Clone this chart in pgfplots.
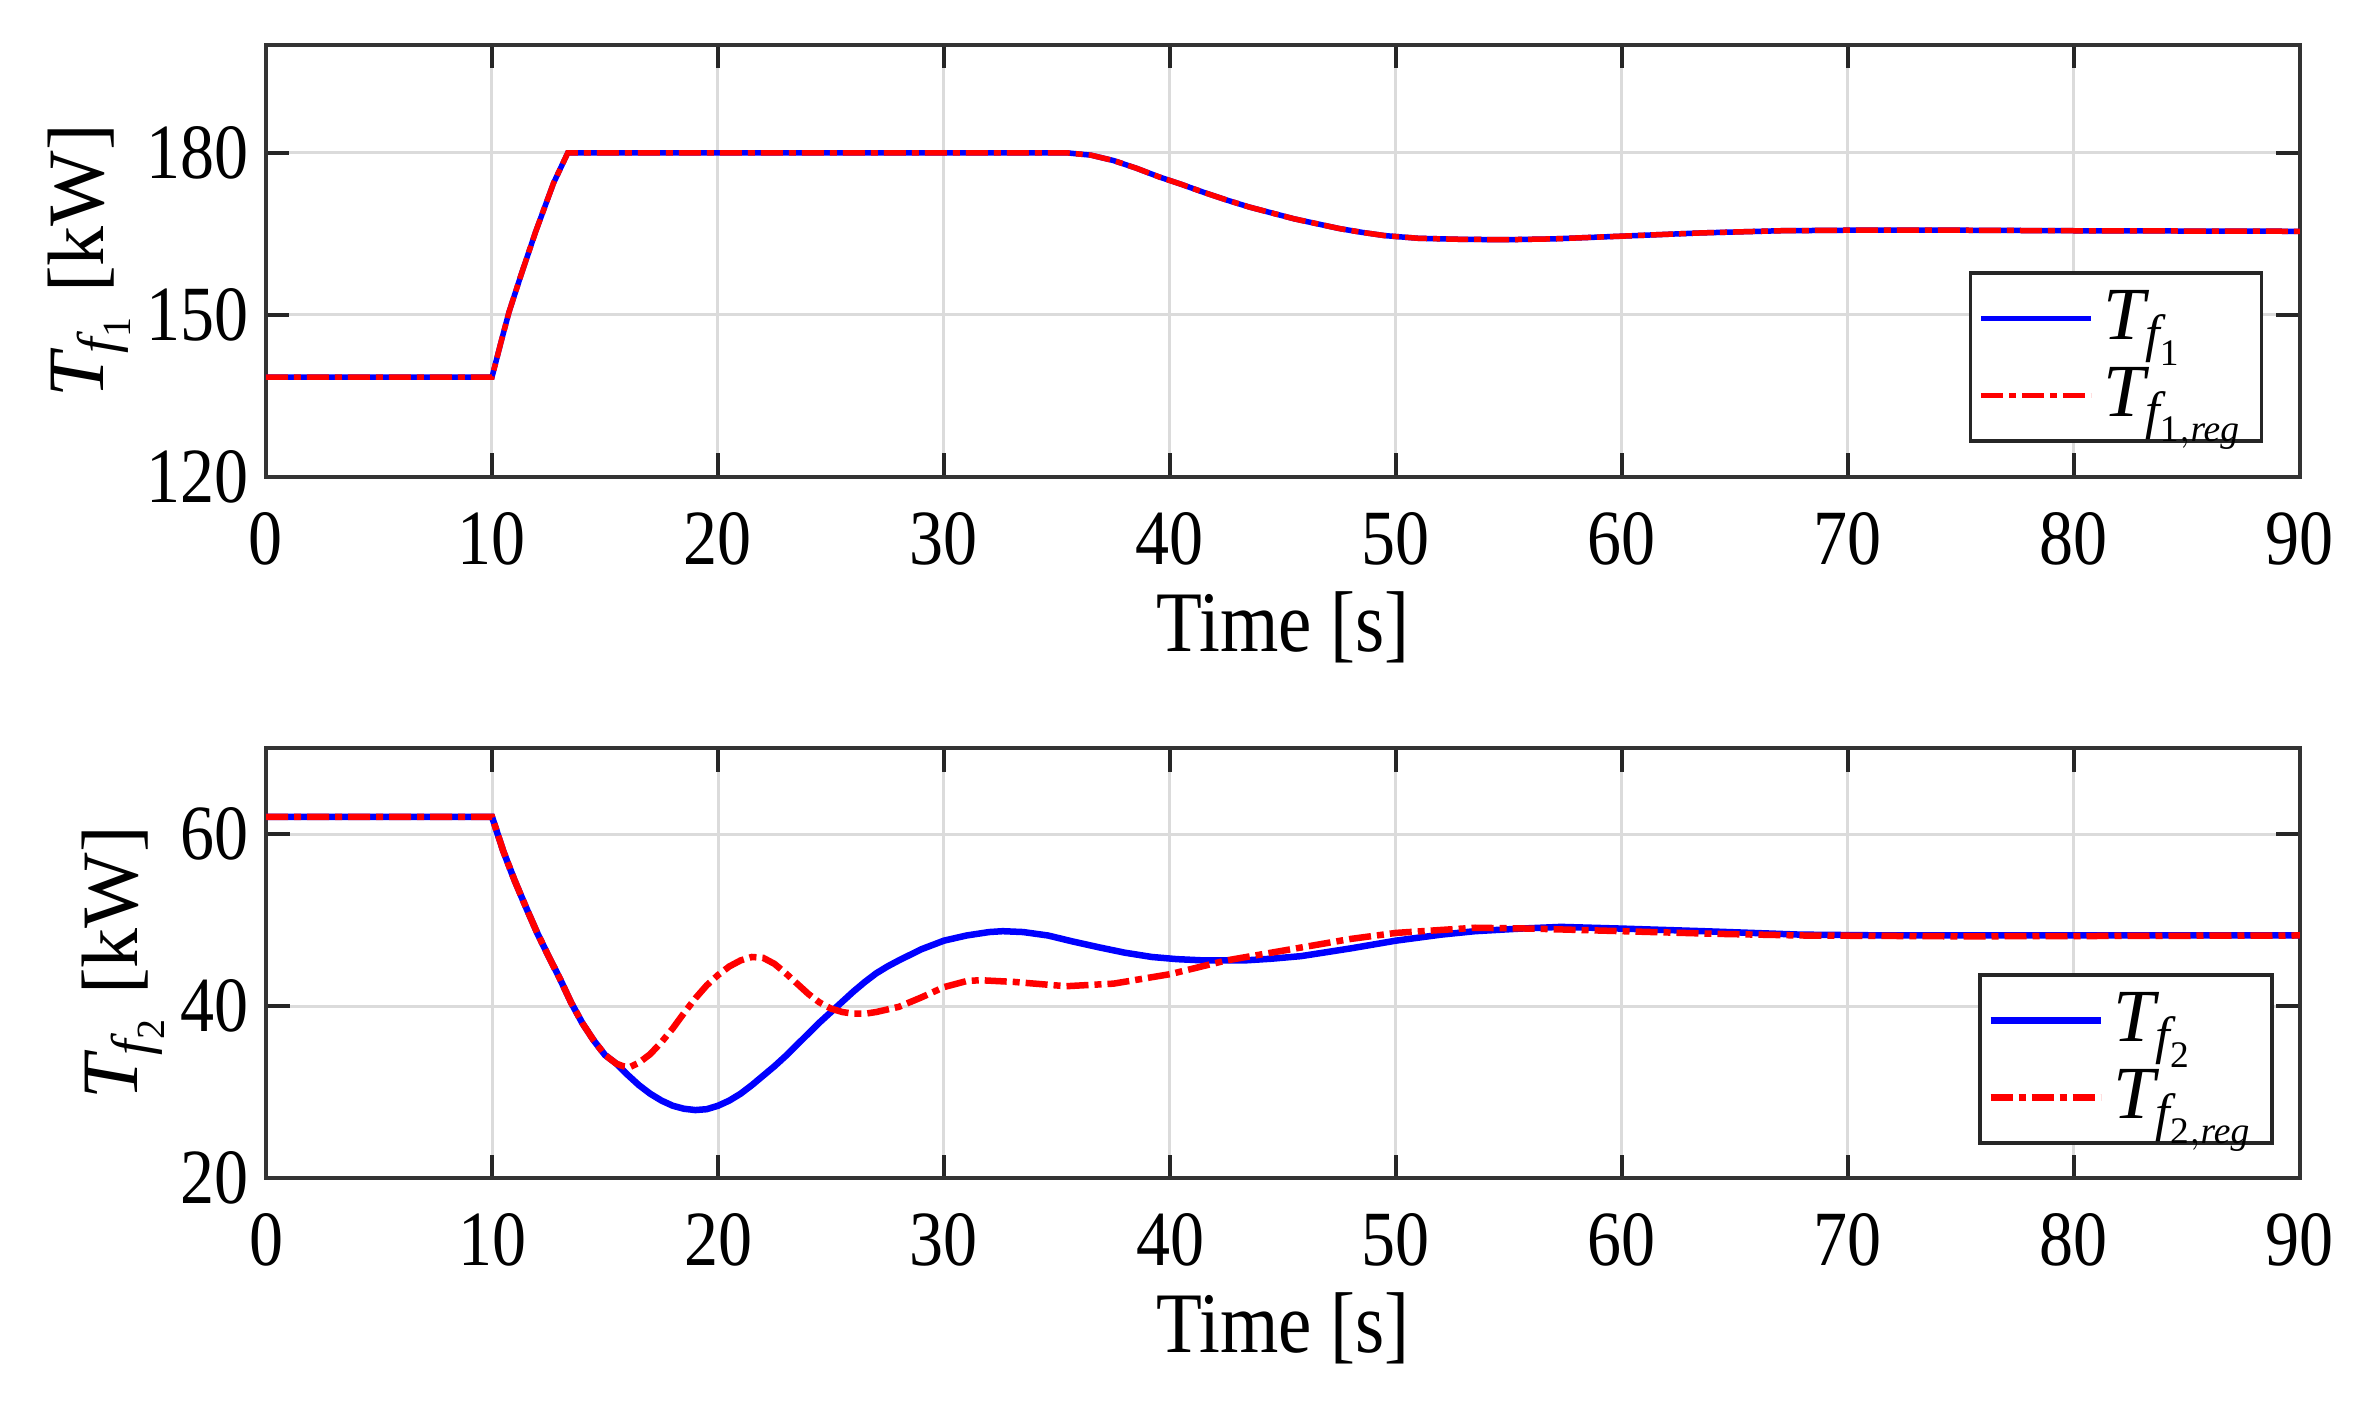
\documentclass[border=0pt]{standalone}
\usepackage{graphicx}
\usepackage{pgfplots}
\pgfplotsset{compat=1.18}
\usepackage{amsmath}
\usepackage{fontspec}
\setmainfont{Liberation Serif}
\newcommand{\Tf}[1]{\textit{T}_{\textit{f}_{#1}}}
\newcommand{\vs}[1]{\scalebox{1}[1.15]{#1}}
\begin{document}
\begin{tikzpicture}
\path[use as bounding box] (0,0) rectangle (472pt,281.6pt);
\pgfplotsset{
  every axis/.style={
    scale only axis, width=406.8pt, anchor=south west,
    xmin=0, xmax=90, xtick={0,10,...,90},
    tick align=inside, major tick length=4.7pt,
    axis line style={black!80, line width=0.7pt},
    every tick/.style={black!85, line width=0.7pt},
    grid=major, grid style={black!14, line width=0.6pt},
    /pgf/number format/assume math mode=true,
    tick label style={font=\fontsize{13.6}{16}\selectfont},
    xticklabel={\vs{\pgfmathprintnumber{\tick}}},
    yticklabel={\vs{\pgfmathprintnumber{\tick}}},
    xticklabel style={yshift=-3.5pt},
    label style={font=\fontsize{15}{18}\selectfont},
    xlabel={\vs{Time [s]}},
    xlabel style={yshift=1.5pt},
    ylabel shift=-3.7pt,
    legend cell align=left,
    legend style={draw=black!85, line width=0.7pt, font=\fontsize{15}{18}\selectfont,
      anchor=south east, inner sep=1.5pt, row sep=0pt},
    legend image code/.code={\draw[#1] (0pt,0pt) -- (22pt,0pt);},
  }
}
\begin{axis}[at={(53.2pt,186.2pt)}, height=86.4pt,
  ymin=120, ymax=200, ytick={120,150,180},
  ylabel={\fontsize{16}{19}\selectfont$\Tf{\textrm{1}}$ [kW]},
  legend style={at={(0.982,0.079)}}]
\addplot[blue, line width=1.1pt] coordinates {
(0,138.5) (10,138.5) (10.4,145) (10.75,150.5) (11.3,157.6) (11.93,165.4) (12.72,174.4) (13.35,180)
(20,180) (30,180) (35.5,180) (36.5,179.6) (37.5,178.6) (38.5,177.2) (39.5,175.6)
(40.5,174.2) (41.5,172.7) (42.5,171.3) (43.5,170.0) (44.5,168.9) (45.5,167.8)
(46.5,166.9) (47.5,166.0) (48.5,165.3) (49.5,164.7) (51,164.2) (53,164.0) (55,163.95)
(57,164.1) (60,164.6) (63.5,165.2) (67,165.6) (70,165.7) (75,165.7) (80,165.6) (90,165.5)};
\addlegendentry{$\Tf{\textrm{1}}$}
\addplot[red, line width=1.1pt, dash pattern=on 4.4pt off 1.2pt on 1.4pt off 1.2pt] coordinates {
(0,138.5) (10,138.5) (10.4,145) (10.75,150.5) (11.3,157.6) (11.93,165.4) (12.72,174.4) (13.35,180)
(20,180) (30,180) (35.5,180) (36.5,179.6) (37.5,178.6) (38.5,177.2) (39.5,175.6)
(40.5,174.2) (41.5,172.7) (42.5,171.3) (43.5,170.0) (44.5,168.9) (45.5,167.8)
(46.5,166.9) (47.5,166.0) (48.5,165.3) (49.5,164.7) (51,164.2) (53,164.0) (55,163.95)
(57,164.1) (60,164.6) (63.5,165.2) (67,165.6) (70,165.7) (75,165.7) (80,165.6) (90,165.5)};
\addlegendentry{$\Tf{\textrm{1},\textit{reg}}$}
\end{axis}
\begin{axis}[at={(53.2pt,46pt)}, height=86pt,
  ymin=20, ymax=70, ytick={20,40,60},
  ylabel={\fontsize{16}{19}\selectfont$\Tf{\textrm{2}}$ [kW]},
  legend style={at={(0.987,0.077)}}]
\addplot[blue, line width=1.3pt] coordinates {
(0,62) (10,62) (10.5,58.0) (11,54.6) (11.5,51.5) (12,48.5) (12.5,45.8) (13,43.2)
(13.5,40.4) (14,38.0) (14.5,36.0) (15,34.3) (15.5,33.3) (16,32.0) (16.5,30.8)
(17,29.8) (17.5,29.0) (18,28.4) (18.5,28.05) (19,27.9) (19.5,28.0) (20,28.4)
(20.5,29.0) (21,29.8) (21.5,30.8) (22,31.9) (22.5,33.0) (23,34.2) (23.5,35.5)
(24,36.8) (24.5,38.1) (25,39.3) (25.5,40.5) (26,41.7) (26.5,42.8) (27,43.8)
(27.5,44.6) (28,45.3) (29,46.6) (30,47.6) (31,48.2) (32,48.6) (32.6,48.7)
(33.5,48.6) (34.6,48.2) (35.7,47.5) (36.9,46.8) (38,46.2) (39.2,45.7) (40.3,45.45)
(41.5,45.3) (43.3,45.3) (44.5,45.5) (45.8,45.8) (48,46.7) (50,47.6) (52,48.3)
(53.5,48.7) (55.5,49.0) (57.3,49.2) (60,49.0) (63.6,48.7) (67.9,48.3) (72,48.2)
(80,48.2) (90,48.2)};
\addlegendentry{$\Tf{\textrm{2}}$}
\addplot[red, line width=1.3pt, dash pattern=on 4.4pt off 1.2pt on 1.4pt off 1.2pt] coordinates {
(0,62) (10,62) (10.5,58.0) (11,54.6) (11.5,51.5) (12,48.5) (12.5,45.8) (13,43.2)
(13.5,40.4) (14,38.0) (14.5,36.0) (15,34.3) (15.5,33.3) (15.8,33.0) (16.1,32.9)
(16.5,33.4) (17,34.4) (17.5,35.8) (18,37.4) (18.5,39.2) (19,40.9) (19.5,42.4)
(20,43.6) (20.5,44.6) (21,45.3) (21.5,45.7) (22,45.6) (22.5,44.9) (23,43.8)
(23.5,42.6) (24,41.4) (24.5,40.4) (25,39.7) (25.5,39.3) (26,39.1) (26.5,39.1)
(27,39.3) (28,39.9) (29,41.0) (30,42.2) (31,42.9) (31.6,43.0) (33.1,42.8)
(35.4,42.3) (37.5,42.6) (40,43.7) (42.5,45.3) (45.8,46.8) (48,47.8) (50,48.5)
(53.5,49.1) (56,49.0) (60,48.7) (64,48.4) (67.9,48.2) (75,48.1) (90,48.2)};
\addlegendentry{$\Tf{\textrm{2},\textit{reg}}$}
\end{axis}
\end{tikzpicture}
\end{document}
